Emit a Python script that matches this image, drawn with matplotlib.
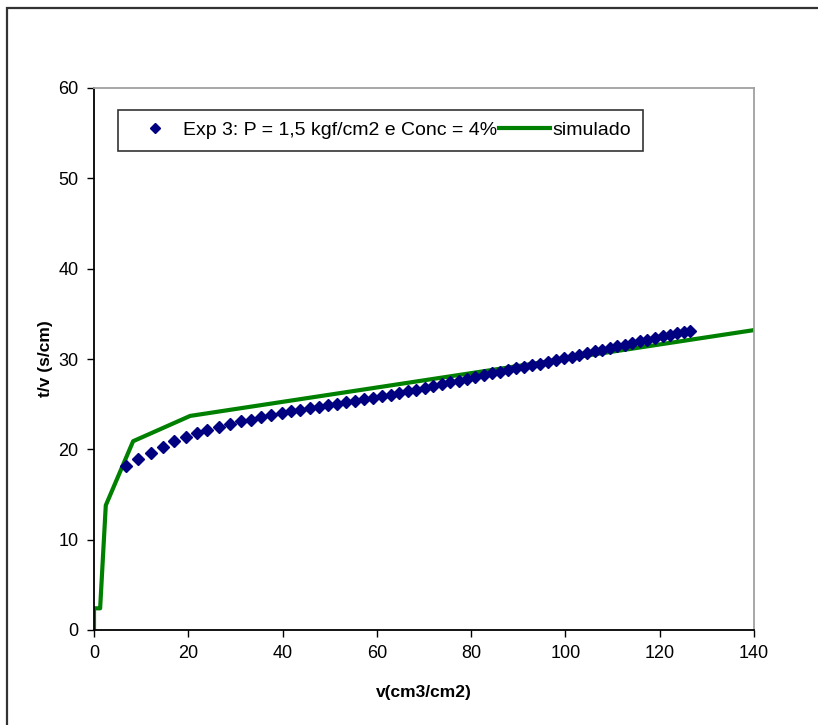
import matplotlib
matplotlib.use("Agg")
import matplotlib.pyplot as plt
from matplotlib.patches import Rectangle

plt.rcParams['font.family'] = ['Liberation Sans', 'DejaVu Sans']

# Experimental data (v in cm3/cm2, t/v in s/cm)
exp_v = [6.7, 9.3, 12.0, 14.7, 17.0, 19.5, 21.8, 23.9, 26.6, 28.9, 31.1, 33.2,
         35.4, 37.6, 39.8, 41.8, 43.8, 45.8, 47.8, 49.7, 51.6, 53.5, 55.4, 57.3,
         59.2, 61.1, 62.9, 64.8, 66.6, 68.4, 70.2, 72.0, 73.8, 75.6, 77.4, 79.2,
         80.9, 82.7, 84.4, 86.1, 87.8, 89.5, 91.2, 92.9, 94.6, 96.3, 98.0, 99.6,
         101.3, 102.9, 104.6, 106.2, 107.8, 109.4, 111.0, 112.6, 114.2, 115.8,
         117.4, 119.0, 120.6, 122.1, 123.7, 125.2, 126.5]
exp_tv = [18.1, 18.9, 19.6, 20.3, 20.9, 21.4, 21.8, 22.1, 22.5, 22.8, 23.1, 23.3,
          23.6, 23.8, 24.0, 24.2, 24.4, 24.55, 24.7, 24.9, 25.05, 25.2, 25.4, 25.55,
          25.7, 25.9, 26.05, 26.25, 26.45, 26.6, 26.8, 27.0, 27.2, 27.4, 27.6, 27.8,
          28.0, 28.2, 28.4, 28.55, 28.75, 28.95, 29.15, 29.35, 29.5, 29.7, 29.9, 30.1,
          30.25, 30.45, 30.65, 30.85, 31.05, 31.2, 31.4, 31.6, 31.8, 31.95,
          32.15, 32.3, 32.5, 32.65, 32.85, 33.0, 33.1]

# Simulated curve
sim_v = [0.0, 0.0, 1.3, 2.5, 8.3, 20.4, 140.0]
sim_tv = [0.0, 2.4, 2.4, 13.8, 20.9, 23.7, 33.2]

exp_label = "Exp 3: P = 1,5 kgf/cm2 e Conc = 4%"
sim_label = "simulado"
x_ticks = [0, 20, 40, 60, 80, 100, 120, 140]
y_ticks = [0, 10, 20, 30, 40, 50, 60]

W, H = 818, 725
fig = plt.figure(figsize=(W / 100, H / 100), dpi=100)
fig.patch.set_facecolor('white')

# outer chart frame (cut off at right and bottom)
frame = Rectangle((7 / W, -0.5), 3.0, 1.5 - 8 / H,
                  transform=fig.transFigure, fill=False,
                  edgecolor='#333333', linewidth=1.6)
fig.patches.append(frame)

ax = fig.add_axes([94 / W, 1 - 630 / H, (754 - 94) / W, (630 - 88) / H])

ax.plot(exp_v, exp_tv, linestyle='none', marker='D', markersize=6,
        color='#000080', label=exp_label, zorder=3)
ax.plot(sim_v, sim_tv, color='#008000', linewidth=3, label=sim_label, zorder=2)

ax.set_xlim(0, 140)
ax.set_ylim(0, 60)
ax.set_xticks(x_ticks)
ax.set_yticks(y_ticks)
ax.tick_params(axis='both', labelsize=13, length=5, width=1, direction='out',
               pad=6, color='black')
ax.spines['left'].set_color('black')
ax.spines['bottom'].set_color('black')
ax.spines['top'].set_color('#a0a0a0')
ax.spines['right'].set_color('#a0a0a0')
for s in ax.spines.values():
    s.set_linewidth(1.3)

ax.set_xlabel("v(cm3/cm2)", fontsize=12.5, fontweight='bold', labelpad=16)
ax.set_ylabel("t/v (s/cm)", fontsize=12.5, fontweight='bold', labelpad=4)

leg = ax.legend(loc='upper left', bbox_to_anchor=(24 / 660, (630 - 110) / 542),
                ncol=2, fontsize=14, frameon=True, fancybox=False,
                handlelength=2.6, handletextpad=0.15, columnspacing=0.1,
                borderpad=0.6, borderaxespad=0, markerscale=0.9)
leg.get_frame().set_edgecolor('black')
leg.get_frame().set_linewidth(1.2)

fig.savefig("out.png", dpi=100)
